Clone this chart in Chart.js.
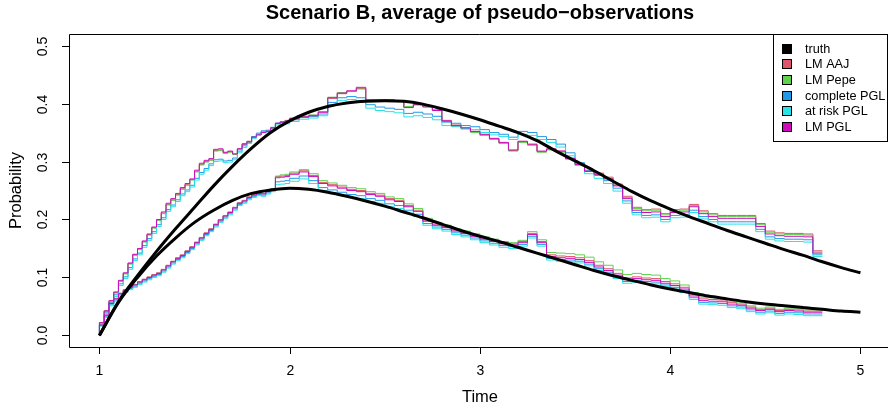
<!DOCTYPE html>
<html>
<head>
<meta charset="utf-8">
<script src="https://cdn.jsdelivr.net/npm/chart.js@4.4.1/dist/chart.umd.min.js"></script>
<style>
  html, body { margin: 0; padding: 0; background: #fff; overflow: hidden; }
  #wrap { width: 888px; height: 406px; }
</style>
</head>
<body>
<div id="wrap"><canvas id="chart" width="888" height="406"></canvas></div>
<script>
// Truth on a 0.1 grid, estimates every 0.025 up to t=2 then every 0.05
const truthTimes = [1.0,1.1,1.2,1.3,1.4,1.5,1.6,1.7,1.8,1.9,2.0,2.1,2.2,2.3,2.4,2.5,2.6,2.7,2.8,2.9,3.0,3.1,3.2,3.3,3.4,3.5,3.6,3.7,3.8,3.9,4.0,4.1,4.2,4.3,4.4,4.5,4.6,4.7,4.8,4.9,5.0];
const truthUpper = [0,0.058,0.103,0.145,0.184,0.221,0.258,0.292,0.323,0.350,0.370,0.385,0.395,0.401,0.404,0.405,0.404,0.399,0.391,0.382,0.372,0.361,0.350,0.336,0.318,0.301,0.284,0.266,0.248,0.232,0.218,0.205,0.193,0.181,0.170,0.159,0.148,0.138,0.127,0.117,0.108];
const truthLower = [0,0.057,0.100,0.137,0.168,0.195,0.216,0.233,0.245,0.251,0.254,0.252,0.247,0.240,0.232,0.223,0.213,0.203,0.192,0.181,0.171,0.162,0.152,0.142,0.132,0.122,0.112,0.103,0.095,0.087,0.080,0.074,0.068,0.063,0.058,0.054,0.051,0.048,0.045,0.042,0.040];

const times = [1.000,1.025,1.050,1.075,1.100,1.125,1.150,1.175,1.200,1.225,
  1.250,1.275,1.300,1.325,1.350,1.375,1.400,1.425,1.450,1.475,
  1.500,1.525,1.550,1.575,1.600,1.625,1.650,1.675,1.700,1.725,
  1.750,1.775,1.800,1.825,1.850,1.875,1.900,1.925,1.950,1.975,
  2.000,
  2.05,2.10,2.15,2.20,2.25,2.30,2.35,2.40,2.45,
  2.50,2.55,2.60,2.65,2.70,2.75,2.80,2.85,2.90,2.95,
  3.00,3.05,3.10,3.15,3.20,3.25,3.30,3.35,3.40,3.45,
  3.50,3.55,3.60,3.65,3.70,3.75,3.80,3.85,3.90,3.95,
  4.00,4.05,4.10,4.15,4.20,4.25,4.30,4.35,4.40,4.45,
  4.50,4.55,4.60,4.65,4.70,4.75,4.80];

// upper group (first state)
const aajUpper = [0,0.018,0.035,0.059,0.074,0.094,0.107,0.124,0.139,0.149,
  0.162,0.174,0.186,0.199,0.211,0.226,0.234,0.243,0.253,0.260,
  0.269,0.283,0.295,0.300,0.303,0.319,0.320,0.315,0.317,0.313,
  0.322,0.331,0.335,0.343,0.347,0.351,0.353,0.358,0.366,0.369,
  0.371,
  0.375,0.378,0.380,0.386,0.409,0.417,0.421,0.426,0.406,
  0.407,0.407,0.405,0.394,0.398,0.395,0.389,0.371,0.363,0.358,
  0.352,0.346,0.339,0.332,0.319,0.334,0.329,0.317,0.321,0.318,
  0.306,0.296,0.285,0.280,0.273,0.261,0.240,0.221,0.217,0.218,
  0.210,0.217,0.218,0.226,0.215,0.210,0.207,0.207,0.207,0.207,
  0.193,0.180,0.177,0.176,0.176,0.175,0.146];
const pepeUpper = [0,0.018,0.034,0.058,0.073,0.093,0.106,0.123,0.138,0.148,
  0.161,0.173,0.185,0.198,0.210,0.225,0.233,0.242,0.252,0.259,
  0.268,0.282,0.294,0.299,0.302,0.318,0.319,0.314,0.316,0.312,
  0.321,0.329,0.333,0.342,0.346,0.350,0.352,0.357,0.365,0.368,
  0.370,
  0.374,0.377,0.380,0.386,0.411,0.419,0.421,0.425,0.407,
  0.407,0.407,0.405,0.395,0.399,0.395,0.389,0.369,0.361,0.356,
  0.350,0.345,0.338,0.331,0.318,0.333,0.328,0.316,0.320,0.316,
  0.304,0.294,0.283,0.278,0.271,0.259,0.238,0.219,0.215,0.216,
  0.208,0.214,0.216,0.224,0.213,0.208,0.205,0.205,0.205,0.205,
  0.191,0.178,0.175,0.174,0.174,0.173,0.144];
const completeUpper = [0,0.017,0.033,0.056,0.070,0.089,0.101,0.117,0.132,0.142,
  0.155,0.167,0.179,0.191,0.203,0.217,0.225,0.234,0.244,0.251,
  0.259,0.271,0.281,0.288,0.296,0.303,0.304,0.301,0.302,0.306,
  0.318,0.327,0.334,0.343,0.349,0.353,0.354,0.359,0.366,0.367,
  0.368,
  0.372,0.376,0.378,0.382,0.402,0.410,0.412,0.410,0.398,
  0.394,0.392,0.390,0.383,0.385,0.382,0.378,0.368,0.366,0.362,
  0.360,0.355,0.350,0.347,0.342,0.352,0.350,0.343,0.338,0.330,
  0.315,0.298,0.284,0.276,0.267,0.254,0.232,0.212,0.207,0.208,
  0.200,0.207,0.208,0.216,0.205,0.200,0.196,0.196,0.196,0.196,
  0.183,0.170,0.167,0.166,0.166,0.165,0.139];
const atRiskUpper = [0,0.016,0.031,0.053,0.067,0.086,0.098,0.114,0.129,0.139,
  0.152,0.164,0.176,0.188,0.200,0.214,0.222,0.231,0.241,0.248,
  0.256,0.268,0.278,0.285,0.293,0.300,0.301,0.298,0.299,0.303,
  0.315,0.324,0.331,0.340,0.346,0.350,0.351,0.356,0.363,0.364,
  0.365,
  0.369,0.373,0.375,0.379,0.398,0.405,0.407,0.405,0.392,
  0.388,0.386,0.384,0.377,0.379,0.376,0.372,0.362,0.360,0.357,
  0.355,0.350,0.346,0.343,0.338,0.347,0.345,0.338,0.333,0.325,
  0.310,0.293,0.279,0.271,0.262,0.249,0.228,0.208,0.203,0.204,
  0.196,0.203,0.204,0.212,0.201,0.196,0.192,0.192,0.192,0.192,
  0.179,0.166,0.163,0.162,0.162,0.161,0.136];
const pglUpper = [0,0.018,0.035,0.060,0.075,0.095,0.108,0.125,0.140,0.150,
  0.163,0.175,0.187,0.200,0.213,0.228,0.236,0.245,0.255,0.262,
  0.270,0.285,0.297,0.302,0.305,0.321,0.322,0.316,0.318,0.313,
  0.322,0.330,0.334,0.342,0.346,0.350,0.352,0.358,0.366,0.368,
  0.370,
  0.374,0.377,0.379,0.385,0.410,0.418,0.422,0.428,0.406,
  0.406,0.406,0.404,0.393,0.398,0.394,0.388,0.370,0.362,0.358,
  0.352,0.347,0.340,0.333,0.320,0.335,0.330,0.318,0.322,0.318,
  0.305,0.295,0.283,0.278,0.270,0.258,0.236,0.216,0.212,0.213,
  0.205,0.212,0.213,0.222,0.210,0.205,0.202,0.202,0.202,0.202,
  0.188,0.175,0.172,0.171,0.171,0.170,0.142];

// lower group (second state)
const aajLower = [0,0.022,0.043,0.056,0.064,0.073,0.079,0.084,0.088,0.093,
  0.097,0.101,0.105,0.108,0.114,0.121,0.128,0.134,0.139,0.146,
  0.153,0.161,0.169,0.177,0.184,0.192,0.200,0.207,0.213,0.221,
  0.229,0.233,0.239,0.243,0.246,0.245,0.249,0.253,0.274,0.275,
  0.276,
  0.280,0.284,0.276,0.264,0.260,0.256,0.252,0.250,0.245,
  0.242,0.236,0.233,0.224,0.216,0.199,0.192,0.188,0.182,0.178,
  0.173,0.168,0.164,0.160,0.158,0.162,0.176,0.162,0.139,0.137,
  0.136,0.134,0.129,0.121,0.115,0.107,0.099,0.101,0.099,0.098,
  0.093,0.089,0.083,0.071,0.063,0.062,0.061,0.057,0.054,0.049,
  0.045,0.047,0.043,0.045,0.044,0.042,0.042];
const pepeLower = [0,0.022,0.042,0.055,0.063,0.072,0.078,0.083,0.087,0.092,
  0.096,0.100,0.104,0.107,0.113,0.120,0.127,0.133,0.138,0.145,
  0.152,0.160,0.168,0.176,0.183,0.191,0.199,0.206,0.212,0.220,
  0.228,0.232,0.238,0.242,0.245,0.245,0.249,0.253,0.275,0.277,
  0.278,
  0.282,0.286,0.279,0.267,0.263,0.259,0.255,0.253,0.248,
  0.245,0.239,0.236,0.227,0.219,0.202,0.195,0.190,0.184,0.180,
  0.175,0.170,0.166,0.162,0.160,0.164,0.179,0.165,0.143,0.142,
  0.141,0.139,0.135,0.127,0.121,0.113,0.105,0.107,0.105,0.104,
  0.098,0.094,0.087,0.074,0.066,0.065,0.063,0.059,0.056,0.051,
  0.047,0.049,0.045,0.047,0.046,0.044,0.044];
const completeLower = [0,0.021,0.040,0.053,0.061,0.070,0.076,0.081,0.085,0.090,
  0.094,0.098,0.102,0.105,0.111,0.118,0.125,0.131,0.136,0.143,
  0.150,0.158,0.166,0.174,0.181,0.189,0.197,0.204,0.210,0.218,
  0.226,0.230,0.236,0.240,0.243,0.242,0.246,0.250,0.265,0.266,
  0.267,
  0.271,0.275,0.267,0.255,0.251,0.247,0.243,0.241,0.236,
  0.233,0.227,0.224,0.216,0.209,0.193,0.187,0.183,0.177,0.173,
  0.168,0.163,0.159,0.155,0.153,0.157,0.171,0.157,0.133,0.131,
  0.130,0.128,0.123,0.115,0.109,0.101,0.093,0.095,0.093,0.092,
  0.087,0.083,0.077,0.065,0.057,0.056,0.055,0.051,0.049,0.044,
  0.040,0.042,0.038,0.040,0.039,0.037,0.037];
const atRiskLower = [0,0.020,0.038,0.051,0.059,0.068,0.074,0.079,0.083,0.088,
  0.092,0.096,0.100,0.103,0.109,0.116,0.123,0.129,0.134,0.141,
  0.148,0.156,0.164,0.172,0.179,0.187,0.195,0.202,0.208,0.216,
  0.224,0.228,0.234,0.238,0.241,0.240,0.244,0.248,0.260,0.261,
  0.262,
  0.266,0.270,0.262,0.250,0.246,0.242,0.238,0.236,0.231,
  0.228,0.222,0.219,0.211,0.205,0.190,0.184,0.180,0.174,0.170,
  0.165,0.160,0.156,0.152,0.150,0.154,0.168,0.154,0.130,0.128,
  0.127,0.125,0.120,0.112,0.106,0.098,0.090,0.092,0.090,0.089,
  0.084,0.080,0.074,0.062,0.054,0.053,0.052,0.048,0.046,0.041,
  0.037,0.039,0.035,0.037,0.036,0.034,0.034];
const pglLower = [0,0.022,0.042,0.055,0.063,0.072,0.078,0.083,0.087,0.092,
  0.096,0.100,0.104,0.107,0.113,0.120,0.127,0.133,0.138,0.145,
  0.152,0.160,0.168,0.176,0.183,0.191,0.199,0.206,0.212,0.220,
  0.228,0.232,0.238,0.242,0.245,0.244,0.248,0.252,0.272,0.273,
  0.274,
  0.278,0.282,0.274,0.262,0.258,0.254,0.250,0.248,0.243,
  0.240,0.234,0.231,0.222,0.214,0.197,0.190,0.186,0.180,0.176,
  0.171,0.166,0.162,0.158,0.156,0.160,0.174,0.160,0.136,0.134,
  0.133,0.131,0.126,0.118,0.112,0.104,0.096,0.098,0.096,0.095,
  0.090,0.086,0.080,0.068,0.060,0.059,0.058,0.054,0.052,0.047,
  0.043,0.045,0.041,0.043,0.042,0.040,0.040];

const legendLabels = ['truth', 'LM AAJ', 'LM Pepe', 'complete PGL', 'at risk PGL', 'LM PGL'];
const legendColors = ['#000000', '#DF536B', '#61D04F', '#2297E6', '#28E2E5', '#CD0BBC'];
const xTicks = [1, 2, 3, 4, 5];
const yTicks = [0, 0.1, 0.2, 0.3, 0.4, 0.5];

const FONT = '"Liberation Sans", Arial, Helvetica, sans-serif';

const toXY = (xs, ys) => xs.map((x, i) => ({ x: x, y: ys[i] }));

function estimate(ys, colorIdx, order) {
    return {
        label: legendLabels[colorIdx],
        data: toXY(times, ys),
        borderColor: legendColors[colorIdx],
        borderWidth: 1,
        stepped: 'after',
        pointRadius: 0,
        order: order
    };
}
function truth(ys) {
    return {
        label: 'truth',
        data: toXY(truthTimes, ys),
        borderColor: '#000000',
        borderWidth: 3,
        cubicInterpolationMode: 'monotone',
        pointRadius: 0,
        order: 0
    };
}

// Axes, box, titles and legend drawn the way R's base graphics lays them out
const rStyle = {
    id: 'rStyle',
    afterDraw(chart) {
        const ctx = chart.ctx;
        const a = chart.chartArea;
        const xs = chart.scales.x, ys = chart.scales.y;
        ctx.save();
        ctx.strokeStyle = '#000';
        ctx.fillStyle = '#000';
        ctx.lineWidth = 1;

        // box (right side falls outside the window)
        ctx.beginPath();
        ctx.moveTo(a.right + 2, Math.round(a.top) + 0.5);
        ctx.lineTo(Math.round(a.left) + 0.5, Math.round(a.top) + 0.5);
        ctx.lineTo(Math.round(a.left) + 0.5, Math.round(a.bottom) + 0.5);
        ctx.lineTo(a.right + 2, Math.round(a.bottom) + 0.5);
        ctx.stroke();

        // x ticks
        ctx.font = '14px ' + FONT;
        ctx.textAlign = 'center';
        ctx.textBaseline = 'middle';
        xTicks.forEach(v => {
            const px = Math.round(xs.getPixelForValue(v)) + 0.5;
            ctx.beginPath();
            ctx.moveTo(px, a.bottom);
            ctx.lineTo(px, a.bottom + 7);
            ctx.stroke();
            ctx.fillText(String(v), px, 371);
        });

        // y ticks, labels turned like R's las = 0
        yTicks.forEach(v => {
            const py = Math.round(ys.getPixelForValue(v)) + 0.5;
            ctx.beginPath();
            ctx.moveTo(a.left, py);
            ctx.lineTo(a.left - 7, py);
            ctx.stroke();
            ctx.save();
            ctx.translate(43, py);
            ctx.rotate(-Math.PI / 2);
            ctx.fillText(v.toFixed(1), 0, 0);
            ctx.restore();
        });

        // axis titles
        ctx.font = '16.5px ' + FONT;
        ctx.fillText('Time', 480, 397);
        ctx.save();
        ctx.translate(16, (a.top + a.bottom) / 2);
        ctx.rotate(-Math.PI / 2);
        ctx.fillText('Probability', 0, 0);
        ctx.restore();

        // main title
        ctx.font = 'bold 20px ' + FONT;
        ctx.fillText('Scenario B, average of pseudo\u2212observations', 480, 13);

        // legend
        const lx = 773, ly = Math.round(a.top) + 0.5, lw = 114, lh = 107;
        ctx.fillStyle = '#fff';
        ctx.fillRect(lx, ly, lw, lh);
        ctx.strokeRect(lx + 0.5, ly, lw, lh);
        ctx.font = '12.7px ' + FONT;
        ctx.textAlign = 'left';
        legendLabels.forEach((lab, i) => {
            const cy = 48.5 + i * 15.7;
            ctx.fillStyle = legendColors[i];
            ctx.fillRect(783, Math.round(cy - 4), 8, 8);
            ctx.strokeStyle = '#000';
            ctx.strokeRect(782.5, Math.round(cy - 4) - 0.5, 9, 9);
            ctx.fillStyle = '#000';
            ctx.fillText(lab, 805, cy + 0.5);
        });
        ctx.restore();
    }
};

new Chart(document.getElementById('chart'), {
    type: 'line',
    data: {
        datasets: [
            estimate(pglUpper, 5, 1), estimate(atRiskUpper, 4, 2), estimate(completeUpper, 3, 3),
            estimate(pepeUpper, 2, 4), estimate(aajUpper, 1, 5),
            estimate(pglLower, 5, 1), estimate(atRiskLower, 4, 2), estimate(completeLower, 3, 3),
            estimate(pepeLower, 2, 4), estimate(aajLower, 1, 5),
            truth(truthUpper), truth(truthLower)
        ]
    },
    options: {
        responsive: false,
        animation: false,
        events: [],
        layout: { padding: { left: 69, top: 34, right: 0, bottom: 59 } },
        scales: {
            x: { type: 'linear', min: 0.84, max: 5.145, display: false },
            y: { type: 'linear', min: -0.02, max: 0.52, display: false }
        },
        plugins: { legend: { display: false }, tooltip: { enabled: false }, title: { display: false } }
    },
    plugins: [rStyle]
});
</script>
</body>
</html>
